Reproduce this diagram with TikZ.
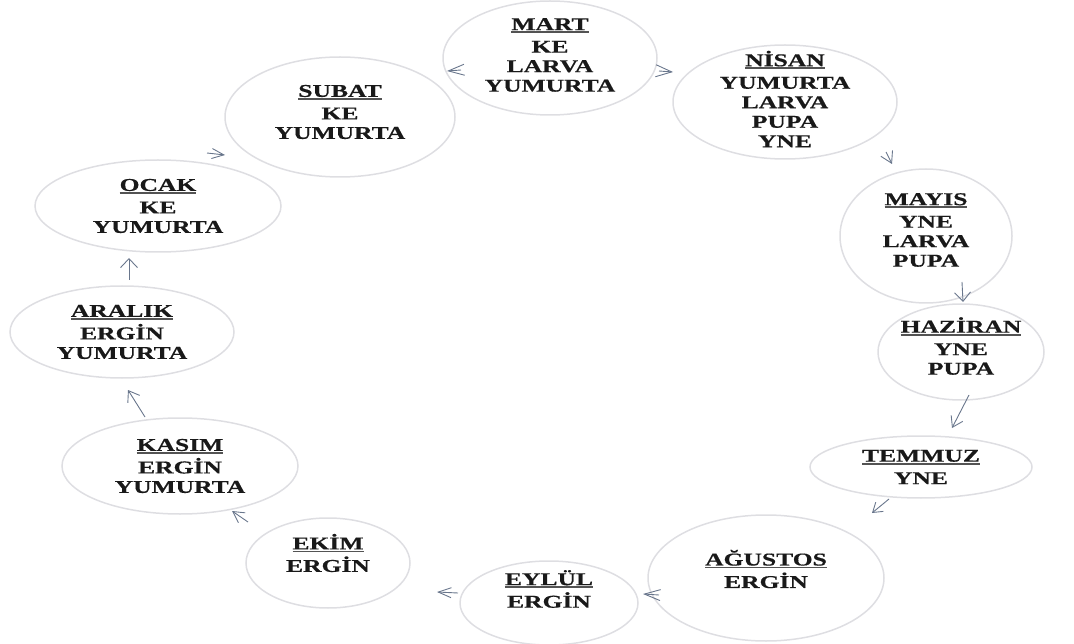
\documentclass[tikz,border=0pt]{standalone}
\usepackage{fontspec}
\newfontfamily\ayfont[FakeStretch=1.42, BoldFont={Liberation Serif Bold}, BoldFeatures={FakeBold=0.6}]{Liberation Serif}
\usetikzlibrary{shapes.geometric, arrows.meta}
\definecolor{rim}{RGB}{222,222,226}
\definecolor{arrowgray}{RGB}{105,118,140}
\definecolor{ink}{RGB}{25,25,25}
\newcommand{\ayadi}[1]{\setbox0\hbox{#1}\leavevmode\rlap{\raisebox{-3pt}{\color{ink!75}\rule{\wd0}{1.8pt}}}\box0}
\tikzset{%
	month/.style={draw=rim, line width=1.5pt, ellipse, inner sep=0pt},
	stage/.style={align=center, text=ink, inner sep=0pt,%
		font=\ayfont\bfseries\fontsize{18}{19.5}\selectfont},
	flow/.style args={#1/#2}{draw=arrowgray, line width=0.9pt, -{Straight Barb[length=#1,width=#2]}},
	flow/.default={10pt/12pt}
}

\begin{document}
\begin{tikzpicture}[x=1pt, y=-1pt]
	\useasboundingbox (0,0) rectangle (1074,644);
	% ellipses
	\node[month, minimum width=214, minimum height=114] (mart)    at (550,58)  {};
	\node[month, minimum width=230, minimum height=120] (subat)   at (340,117) {};
	\node[month, minimum width=224, minimum height=114] (nisan)   at (785,102) {};
	\node[month, minimum width=246, minimum height=92]  (ocak)    at (158,206) {};
	\node[month, minimum width=172, minimum height=134] (mayis)   at (926,236) {};
	\node[month, minimum width=224, minimum height=92]  (aralik)  at (122,332) {};
	\node[month, minimum width=166, minimum height=96]  (haziran) at (961,352) {};
	\node[month, minimum width=236, minimum height=96]  (kasim)   at (180,466) {};
	\node[month, minimum width=222, minimum height=62]  (temmuz)  at (921,467) {};
	\node[month, minimum width=164, minimum height=90]  (ekim)    at (328,563) {};
	\node[month, minimum width=236, minimum height=126] (agustos) at (766,578) {};
	\node[month, minimum width=178, minimum height=84]  (eylul)   at (549,603) {};
	% texts
	\node[stage] (martT)    at ([yshift=3pt]mart.center)    {\ayadi{MART}\\[3pt]KE\\LARVA\\YUMURTA};
	\node[stage] (subatT)   at ([yshift=5pt]subat.center)   {\ayadi{SUBAT}\\[3pt]KE\\YUMURTA};
	\node[stage] (nisanT)   at ([yshift=3pt]nisan.center)   {\ayadi{NİSAN}\\[3pt]YUMURTA\\LARVA\\PUPA\\YNE};
	\node[stage] (ocakT)    at (ocak)    {\ayadi{OCAK}\\[3pt]KE\\YUMURTA};
	\node[stage] (mayisT)   at ([yshift=6pt]mayis.center)   {\ayadi{MAYIS}\\[3pt]YNE\\LARVA\\PUPA};
	\node[stage] (aralikT)  at (aralik)  {\ayadi{ARALIK}\\[3pt]ERGİN\\YUMURTA};
	\node[stage] (haziranT) at ([yshift=6pt]haziran.center) {\ayadi{HAZİRAN}\\[3pt]YNE\\PUPA};
	\node[stage] (kasimT)   at (kasim)   {\ayadi{KASIM}\\[3pt]ERGİN\\YUMURTA};
	\node[stage] (temmuzT)  at (temmuz)  {\ayadi{TEMMUZ}\\[3pt]YNE};
	\node[stage] (ekimT)    at ([yshift=10pt]ekim.center)   {\ayadi{EKİM}\\[3pt]ERGİN};
	\node[stage] (agustosT) at ([yshift=9pt]agustos.center) {\ayadi{AĞUSTOS}\\[3pt]ERGİN};
	\node[stage] (eylulT)   at ([yshift=14pt]eylul.center)  {\ayadi{EYLÜL}\\[3pt]ERGİN};
	% arrow ends
	\coordinate (a1s) at (461,70);  \coordinate (a1e) at (447,71);
	\coordinate (a2s) at (659,71);  \coordinate (a2e) at (673,72);
	\coordinate (a3s) at (886,152); \coordinate (a3e) at (892,164);
	\coordinate (a4s) at (962,282); \coordinate (a4e) at (963,302);
	\coordinate (a5s) at (969,395); \coordinate (a5e) at (952,428);
	\coordinate (a6s) at (889,499); \coordinate (a6e) at (872,513);
	\coordinate (a7s) at (659,595); \coordinate (a7e) at (643,594);
	\coordinate (a8s) at (458,593); \coordinate (a8e) at (437,592);
	\coordinate (a9s) at (248,522); \coordinate (a9e) at (232,511);
	\coordinate (a10s) at (145,417); \coordinate (a10e) at (128,390);
	\coordinate (a11s) at (129,280); \coordinate (a11e) at (129,258);
	\coordinate (a12s) at (207,153); \coordinate (a12e) at (225,155);
	% arrows
	\draw[flow=16pt/11pt] (a1s) -- (a1e);
	\draw[flow=16pt/12pt] (a2s) -- (a2e);
	\draw[flow=11pt/13pt] (a3s) -- (a3e);
	\draw[flow=9pt/16pt]  (a4s) -- (a4e);
	\draw[flow=10pt/13pt] (a5s) -- (a5e);
	\draw[flow=9pt/12pt]  (a6s) -- (a6e);
	\draw[flow=16pt/11pt] (a7s) -- (a7e);
	\draw[flow=13pt/10pt] (a8s) -- (a8e);
	\draw[flow=11pt/12pt] (a9s) -- (a9e);
	\draw[flow=10pt/14pt] (a10s) -- (a10e);
	\draw[flow=9pt/17pt]  (a11s) -- (a11e);
	\draw[flow=12pt/10pt] (a12s) -- (a12e);
\end{tikzpicture}
\end{document}
